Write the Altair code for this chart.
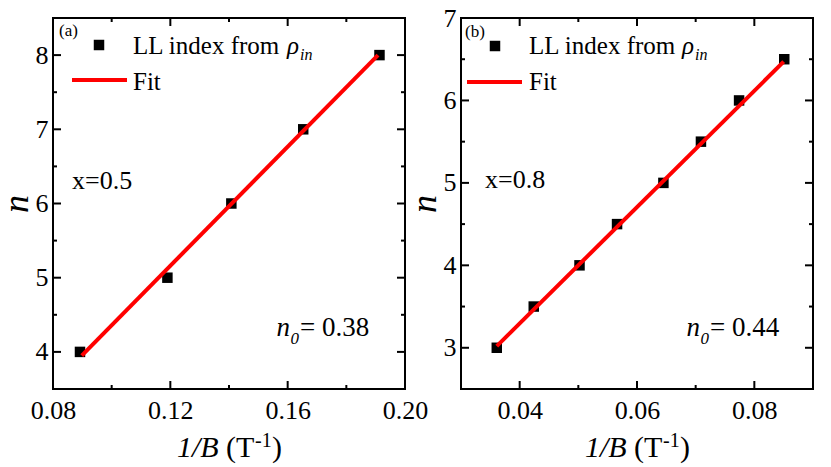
import altair as alt
import pandas as pd

# ---------------- data ----------------
# Panel (a): x = 0.5
a_invB = [0.0892, 0.1190, 0.1408, 0.1653, 0.1913]
a_n = [4, 5, 6, 7, 8]
a_fit_invB = [0.0898, 0.1908]
a_fit_n = [3.95, 8.0]
a_xdomain = [0.08, 0.20]
a_ydomain = [3.5, 8.5]
a_xlabels = [0.08, 0.12, 0.16, 0.20]
a_ylabels = [4, 5, 6, 7, 8]
a_xmajor = [0.12, 0.16]
a_xminor = [0.10, 0.14, 0.18]
a_ymajor = [4, 5, 6, 7, 8]
a_yminor = [4.5, 5.5, 6.5, 7.5]

# Panel (b): x = 0.8
b_invB = [0.0361, 0.0424, 0.0502, 0.0566, 0.0645, 0.0709, 0.0774, 0.0851]
b_n = [3, 3.5, 4, 4.5, 5, 5.5, 6, 6.5]
b_fit_invB = [0.0361, 0.0850]
b_fit_n = [3.02, 6.47]
b_xdomain = [0.03, 0.09]
b_ydomain = [2.5, 7.0]
b_xlabels = [0.04, 0.06, 0.08]
b_ylabels = [3, 4, 5, 6, 7]
b_xmajor = [0.04, 0.06, 0.08]
b_xminor = [0.05, 0.07]
b_ymajor = [3, 4, 5, 6]
b_yminor = [3.5, 4.5, 5.5, 6.5]

FONT = "Liberation Serif"
W, H = 352, 371
MAJ, MIN = 8, 4


def txt(text, x, y, size, italic=False, align="left"):
    return alt.Chart(alt.Data(values=[{}])).mark_text(
        text=text, font=FONT, fontSize=size, align=align, baseline="alphabetic",
        fontStyle="italic" if italic else "normal", color="black"
    ).encode(x=alt.value(x), y=alt.value(y))


def panel(invB, n, fit_x, fit_y, xdom, ydom, xlabels, ylabels,
          xmajor, xminor, ymajor, yminor, tag, comp, n0, o):
    xs = alt.Scale(domain=xdom, nice=False, zero=False)
    ys = alt.Scale(domain=ydom, nice=False, zero=False)
    common = dict(labelFont=FONT, labelFontSize=26, labelColor="black",
                  labelFlush=False, labelOverlap=False, labelBound=False,
                  ticks=False, tickSize=0, domain=False, grid=False)
    xaxis = alt.Axis(values=xlabels, format=".2f", title=None, labelPadding=8, **common)
    yaxis = alt.Axis(values=ylabels, format="d", title="n", labelPadding=5,
                     titleFont=FONT, titleFontSize=36, titleFontStyle="italic",
                     titleFontWeight="normal", titleColor="black", titlePadding=0,
                     **common)

    def X(f):
        return alt.X(f, scale=xs, axis=xaxis, title=None)

    def Y(f):
        return alt.Y(f, scale=ys, axis=yaxis, title="n")

    pts = alt.Chart(pd.DataFrame({"invB": invB, "n": n})).mark_square(
        size=110, color="black", opacity=1
    ).encode(x=X("invB:Q"), y=Y("n:Q"))

    fit = alt.Chart(pd.DataFrame({"invB": fit_x, "n": fit_y})).mark_line(
        color="#ff0000", strokeWidth=4
    ).encode(x=X("invB:Q"), y=Y("n:Q"))

    layers = []
    for vals, ln in ((xmajor, MAJ), (xminor, MIN)):
        base = alt.Chart(pd.DataFrame({"v": vals})).mark_rule(color="black", strokeWidth=2)
        layers.append(base.encode(x=X("v:Q"), y=alt.value(H), y2=alt.value(H - ln)))
        layers.append(base.encode(x=X("v:Q"), y=alt.value(0), y2=alt.value(ln)))
    for vals, ln in ((ymajor, MAJ), (yminor, MIN)):
        base = alt.Chart(pd.DataFrame({"v": vals})).mark_rule(color="black", strokeWidth=2)
        layers.append(base.encode(y=Y("v:Q"), x=alt.value(0), x2=alt.value(ln)))
        layers.append(base.encode(y=Y("v:Q"), x=alt.value(W), x2=alt.value(W - ln)))

    one = alt.Data(values=[{}])
    leg_sq = alt.Chart(one).mark_square(size=110, color="black", opacity=1).encode(
        x=alt.value(o["sq"][0]), y=alt.value(o["sq"][1]))
    leg_ln = alt.Chart(one).mark_rule(color="#ff0000", strokeWidth=4).encode(
        x=alt.value(o["ln"][0]), x2=alt.value(o["ln"][1]), y=alt.value(o["ln"][2]))

    lx = o["lx"]
    texts = [
        txt(tag, o["tag"][0], o["tag"][1], 17),
        txt("LL index from", lx, o["ly"], 25),
        txt("ρ", o["rho"], o["ly"], 25, italic=True),
        txt("in", o["rho"] + 13, o["ly"] + 6, 16, italic=True),
        txt("Fit", lx, o["ly"] + 36, 25),
        txt(comp, o["comp"][0], o["comp"][1], 26),
        txt("n", o["n0"], 318, 27, italic=True),
        txt("0", o["n0"] + 14, 326, 17, italic=True),
        txt("= " + n0, o["n0"] + 23.5, 318, 27),
        # x-axis title: 1/B (T^-1)
        txt("1/B", 124, 439, 30, italic=True),
        txt("(T", 173, 439, 30),
        txt("-1", 202, 429, 20),
        txt(")", 219, 439, 30),
    ]

    return alt.layer(pts, fit, *layers, leg_sq, leg_ln, *texts).properties(width=W, height=H)


pa = panel(a_invB, a_n, a_fit_invB, a_fit_n, a_xdomain, a_ydomain, a_xlabels, a_ylabels,
           a_xmajor, a_xminor, a_ymajor, a_yminor, "(a)", "x=0.5", "0.38",
           {"sq": (46, 27), "ln": (19, 74, 62), "lx": 80, "ly": 36, "rho": 234,
            "tag": (6, 18), "comp": (19, 171), "n0": 223.5})
pb = panel(b_invB, b_n, b_fit_invB, b_fit_n, b_xdomain, b_ydomain, b_xlabels, b_ylabels,
           b_xmajor, b_xminor, b_ymajor, b_yminor, "(b)", "x=0.8", "0.44",
           {"sq": (34, 28), "ln": (6, 61, 64), "lx": 68, "ly": 36, "rho": 221,
            "tag": (4, 19), "comp": (24, 170), "n0": 225.5})

chart = alt.hconcat(pa, pb, spacing=56, bounds="flush").properties(
    padding={"left": -11, "top": -4, "right": 0, "bottom": 0}
).configure_view(
    stroke="black", strokeWidth=2
)

chart.save("out.html", embed_options={"renderer": "svg", "actions": False})
